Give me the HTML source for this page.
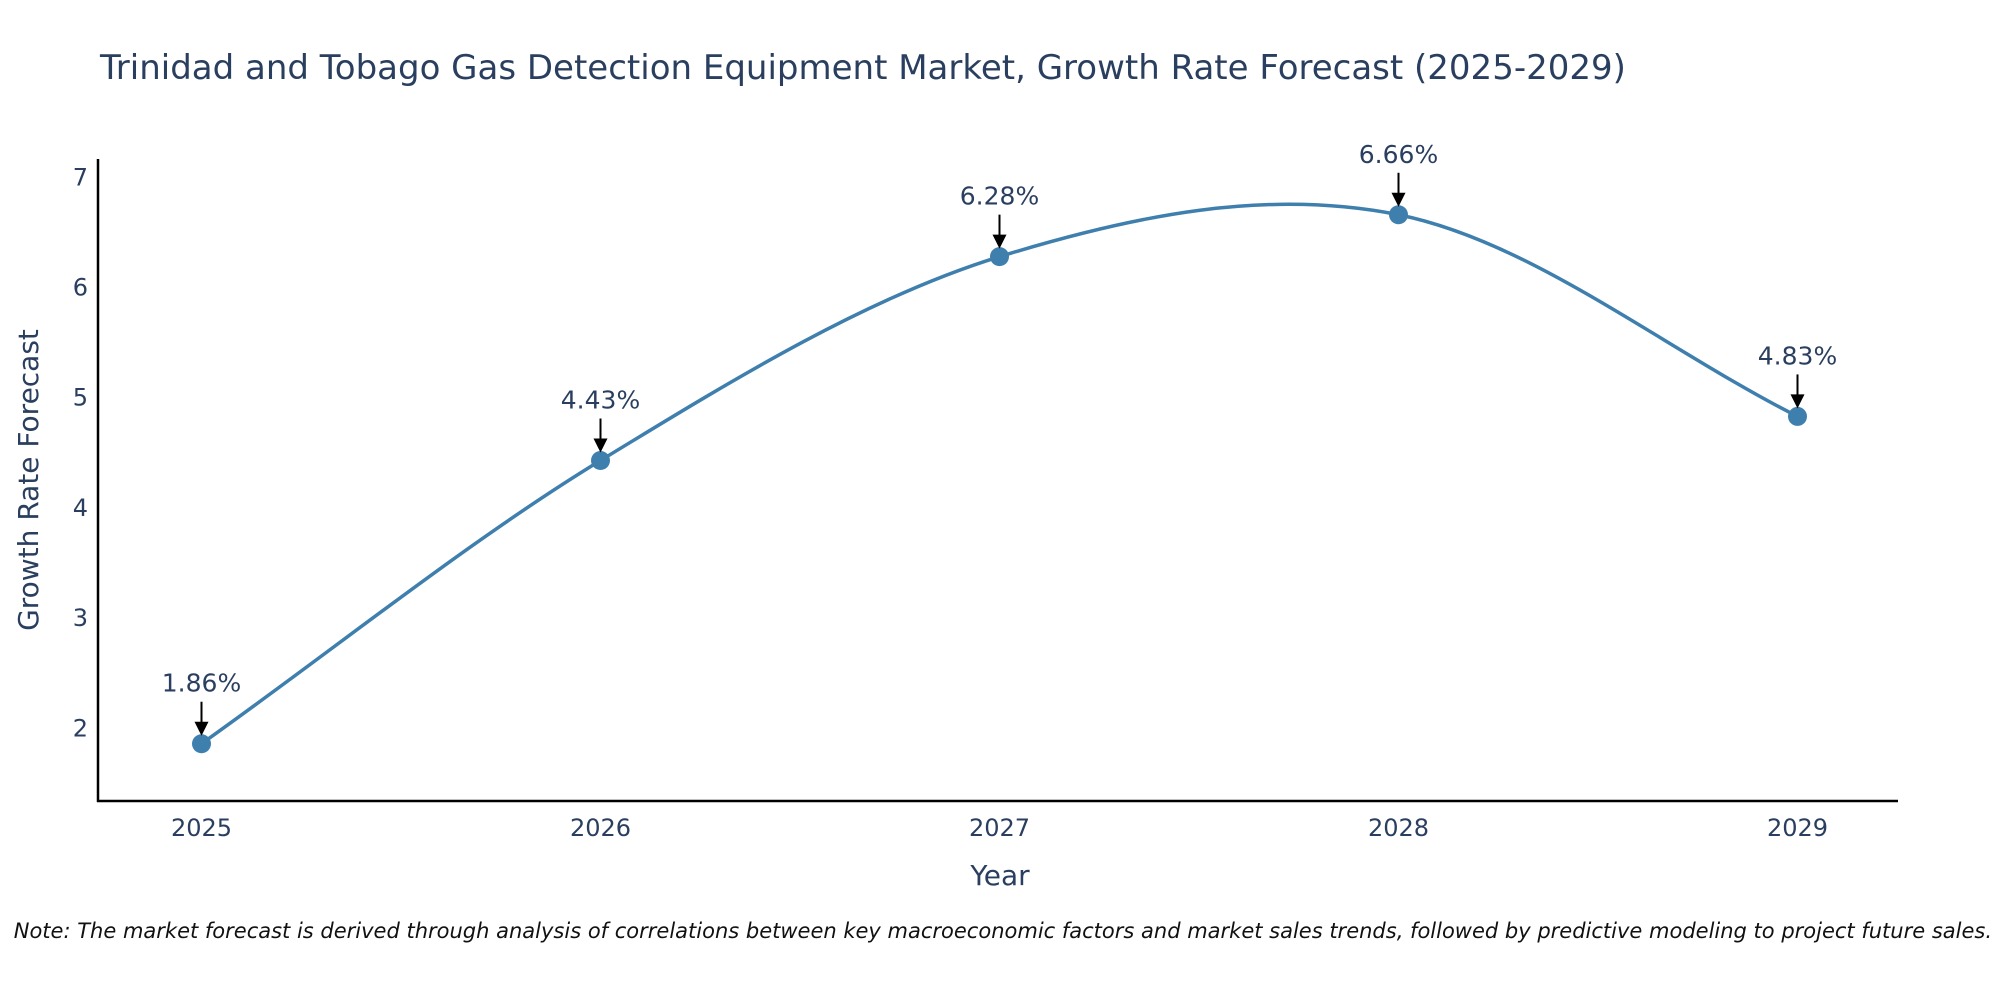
<!DOCTYPE html>
<html><head><meta charset="utf-8"><style>
body{margin:0;background:#fff;}
svg text{font-family:"DejaVu Sans","Liberation Sans",sans-serif;fill:#2a3f5f;}
</style></head><body>
<svg width="2000" height="1000" viewBox="0 0 2000 1000" xmlns="http://www.w3.org/2000/svg">
<text x="100" y="79" font-size="34">Trinidad and Tobago Gas Detection Equipment Market, Growth Rate Forecast (2025-2029)</text>
<g id="yticks"></g>
<g id="xticks"></g>
<line x1="98" y1="159" x2="98" y2="802" stroke="#000" stroke-width="2.5"/>
<line x1="97" y1="801" x2="1898" y2="801" stroke="#000" stroke-width="2.5"/>
<text transform="translate(38,480) rotate(-90)" text-anchor="middle" font-size="28">Growth Rate Forecast</text>
<text x="1000" y="885" text-anchor="middle" font-size="28">Year</text>
<path id="line" fill="none" stroke="#3f7fae" stroke-width="3.5"/>
<g id="marks"></g>
<text x="1992" y="938" text-anchor="end" font-size="21" font-style="italic" style="fill:#111">Note: The market forecast is derived through analysis of correlations between key macroeconomic factors and market sales trends, followed by predictive modeling to project future sales.</text>
</svg>
<script>
const years=[2025,2026,2027,2028,2029];
const values=[1.86,4.43,6.28,6.66,4.83];
const labels=["1.86%","4.43%","6.28%","6.66%","4.83%"];
const yTicks=[2,3,4,5,6,7];
const NS="http://www.w3.org/2000/svg";
const X=v=>201.5+(v-2025)*399;
const Y=v=>728.3-(v-2)*110.2;
function mk(tag,attrs,parent,text){const e=document.createElementNS(NS,tag);for(const k in attrs)e.setAttribute(k,attrs[k]);if(text!==undefined)e.textContent=text;parent.appendChild(e);return e;}
const yt=document.getElementById('yticks');
yTicks.forEach(t=>{const e=mk('text',{x:88,y:Y(t)+8,'text-anchor':'end','font-size':24},yt,String(t));

});
const xt=document.getElementById('xticks');
years.forEach(t=>{const e=mk('text',{x:X(t),y:836,'text-anchor':'middle','font-size':24},xt,String(t));

});
const P=years.map((y,i)=>[X(y),Y(values[i])]);
let d="M"+P[0][0]+","+P[0][1];
const tan=P.map((p,i)=>{const a=P[Math.max(0,i-1)],b=P[Math.min(P.length-1,i+1)];const f=(i===0||i===P.length-1)?1:0.5;return [(b[0]-a[0])*f,(b[1]-a[1])*f];});
for(let i=0;i<P.length-1;i++){const a=P[i],b=P[i+1];
d+=" C"+(a[0]+tan[i][0]/3)+","+(a[1]+tan[i][1]/3)+" "+(b[0]-tan[i+1][0]/3)+","+(b[1]-tan[i+1][1]/3)+" "+b[0]+","+b[1];}
document.getElementById('line').setAttribute('d',d);
const g=document.getElementById('marks');
P.forEach((p,i)=>{
const c=mk('circle',{cx:p[0],cy:p[1],r:9.5,fill:'#3f7fae'},g);


const l=mk('line',{x1:p[0],y1:p[1]-42,x2:p[0],y2:p[1]-20,stroke:'#000','stroke-width':2},g);


const h=mk('polygon',{points:(p[0]-7)+","+(p[1]-22)+" "+(p[0]+7)+","+(p[1]-22)+" "+p[0]+","+(p[1]-8),fill:'#000'},g);


const t=mk('text',{x:p[0],y:p[1]-52,'text-anchor':'middle','font-size':25},g,labels[i]);


});
</script>
</body></html>
